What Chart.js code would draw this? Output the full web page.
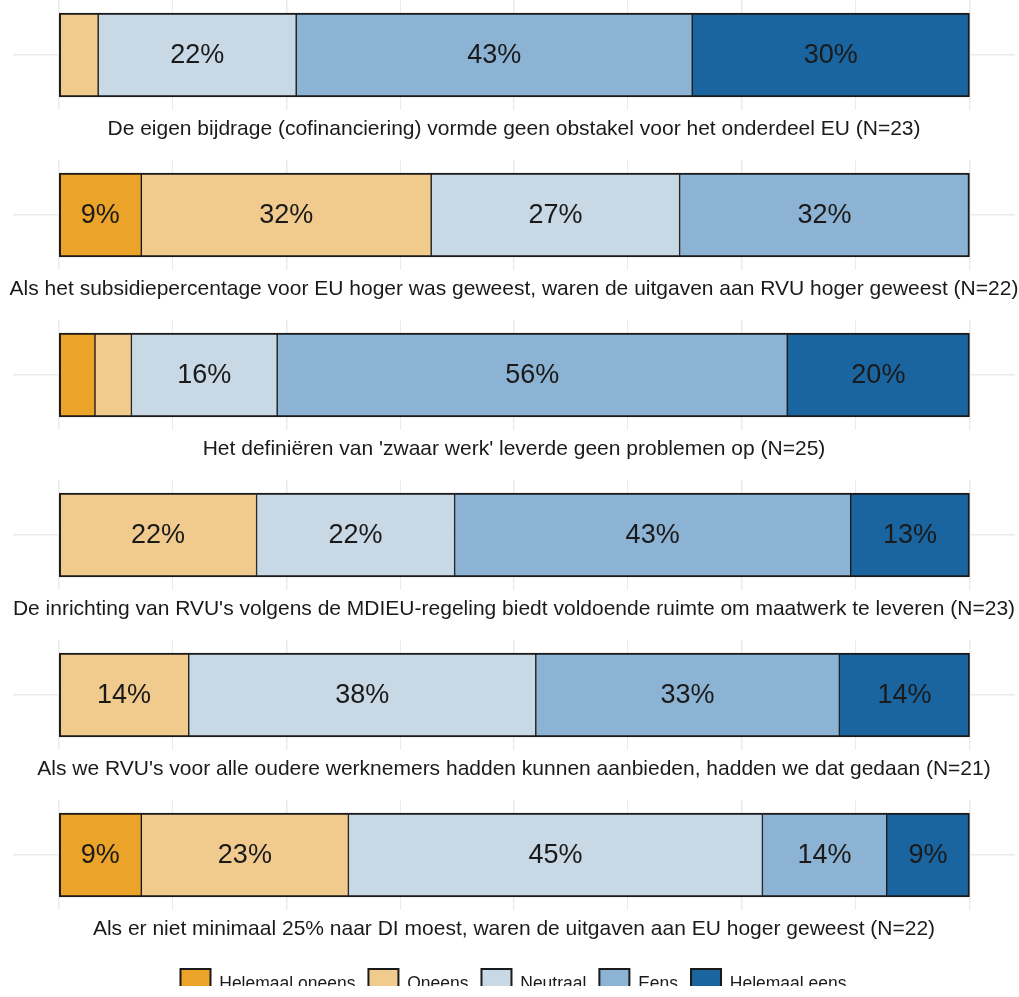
<!DOCTYPE html>
<html>
<head>
<meta charset="utf-8">
<script src="https://cdn.jsdelivr.net/npm/chart.js@4"></script>
<style>
body { margin: 0; background: #fff; overflow: hidden; }
#wrap { position: relative; width: 1019px; height: 997px; overflow: hidden; background: #fff; }
#wrap canvas { position: absolute; left: 0; }
</style>
</head>
<body>
<div id="wrap"></div>
<script>
const categories = ["Helemaal oneens", "Oneens", "Neutraal", "Eens", "Helemaal eens"];

const statements = [
    "De eigen bijdrage (cofinanciering) vormde geen obstakel voor het onderdeel EU (N=23)",
    "Als het subsidiepercentage voor EU hoger was geweest, waren de uitgaven aan RVU hoger geweest (N=22)",
    "Het definiëren van 'zwaar werk' leverde geen problemen op (N=25)",
    "De inrichting van RVU's volgens de MDIEU-regeling biedt voldoende ruimte om maatwerk te leveren (N=23)",
    "Als we RVU's voor alle oudere werknemers hadden kunnen aanbieden, hadden we dat gedaan (N=21)",
    "Als er niet minimaal 25% naar DI moest, waren de uitgaven aan EU hoger geweest (N=22)"
];

// percentages per statement
const helemaalOneens = [0, 9.09, 4, 0, 0, 9.09];
const oneens = [4.35, 31.82, 4, 21.74, 14.29, 22.73];
const neutraal = [21.74, 27.27, 16, 21.74, 38.10, 45.45];
const eens = [43.48, 31.82, 56, 43.48, 33.33, 13.64];
const helemaalEens = [30.43, 0, 20, 13.04, 14.29, 9.09];

const tickValues = [0, 12.5, 25, 37.5, 50, 62.5, 75, 87.5, 100];

const colors = ["#eca32a", "#f1cb8e", "#c8d8e5", "#8db3d4", "#1a65a0"];
const series = [helemaalOneens, oneens, neutraal, eens, helemaalEens];

const FONT = '"Liberation Sans", Arial, sans-serif';
const wrap = document.getElementById("wrap");

// percentage text inside the segments
const segLabels = {
    id: "segLabels",
    afterDatasetsDraw(chart) {
        const ctx = chart.ctx;
        ctx.save();
        ctx.font = "27px " + FONT;
        ctx.fillStyle = "#1a1a1a";
        ctx.textAlign = "center";
        ctx.textBaseline = "middle";
        chart.data.datasets.forEach((ds, i) => {
            chart.getDatasetMeta(i).data.forEach((bar, j) => {
                const v = ds.data[j];
                if (v == null || v < 8) return;
                ctx.fillText(Math.round(v) + "%", (bar.x + bar.base) / 2, bar.y + 1);
            });
        });
        ctx.restore();
    }
};

// statement text under each bar
const statement = {
    id: "statement",
    afterDraw(chart, args, opts) {
        const a = chart.chartArea;
        const ctx = chart.ctx;
        ctx.save();
        ctx.font = "21px " + FONT;
        ctx.fillStyle = "#1a1a1a";
        ctx.textAlign = "center";
        ctx.textBaseline = "alphabetic";
        ctx.fillText(opts.text, (a.left + a.right) / 2, a.bottom + 25);
        ctx.restore();
    }
};

function makeCanvas(top, height) {
    const c = document.createElement("canvas");
    c.width = 1019;
    c.height = height;
    c.style.top = top + "px";
    wrap.appendChild(c);
    return c;
}

function drawPanel(p) {
    const row = series.map(s => s[p]);
    const first = row.findIndex(v => v > 0);
    let last = row.length - 1;
    while (row[last] <= 0) last--;

    new Chart(makeCanvas(p * 160, 160), {
        type: "bar",
        data: {
            labels: [statements[p]],
            datasets: categories.map((c, k) => ({
                label: c,
                data: [row[k] > 0 ? row[k] : null],
                backgroundColor: colors[k],
                borderColor: "#1a1a1a",
                borderWidth: {
                    top: 2,
                    bottom: 2,
                    left: k === first ? 2 : 1,
                    right: k === last ? 2 : 1
                },
                borderSkipped: false,
                barThickness: 84
            }))
        },
        options: {
            indexAxis: "y",
            responsive: false,
            animation: false,
            layout: { padding: { left: 13, right: 4, top: 0, bottom: 50 } },
            scales: {
                x: {
                    stacked: true,
                    min: -5,
                    max: 105,
                    afterBuildTicks: axis => { axis.ticks = tickValues.map(v => ({ value: v })); },
                    ticks: { display: false },
                    grid: {
                        color: "#ebebeb",
                        lineWidth: ctx => (ctx.tick && ctx.tick.value % 25 === 0 ? 1.5 : 1),
                        drawTicks: false
                    },
                    border: { display: false }
                },
                y: {
                    stacked: true,
                    ticks: { display: false },
                    grid: { color: "#ebebeb", lineWidth: 1.5, drawTicks: false, offset: false },
                    border: { display: false }
                }
            },
            plugins: {
                legend: { display: false },
                tooltip: { enabled: false },
                statement: { text: statements[p] }
            }
        },
        plugins: [segLabels, statement]
    });
}

for (let p = 0; p < statements.length; p++) drawPanel(p);

// legend only chart
new Chart(makeCanvas(956, 60), {
    type: "bar",
    data: {
        labels: [],
        datasets: categories.map((c, k) => ({
            label: c,
            data: [],
            backgroundColor: colors[k],
            borderColor: "#1a1a1a",
            borderWidth: 2
        }))
    },
    options: {
        responsive: false,
        animation: false,
        layout: { padding: { left: 8 } },
        scales: { x: { display: false }, y: { display: false } },
        plugins: {
            tooltip: { enabled: false },
            legend: {
                position: "top",
                labels: {
                    boxWidth: 30,
                    boxHeight: 30,
                    padding: 13,
                    color: "#1a1a1a",
                    font: { size: 17.5, family: FONT }
                }
            }
        }
    }
});
</script>
</body>
</html>
